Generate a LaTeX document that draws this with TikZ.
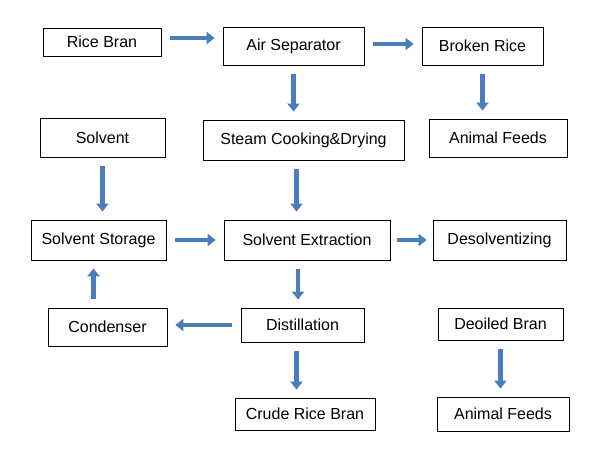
\documentclass[tikz,border=0pt]{standalone}
\usepackage{fontspec}
\setmainfont{Liberation Sans}
\usetikzlibrary{arrows.meta}
\definecolor{arr}{HTML}{4A7EBB}
\begin{document}
\begin{tikzpicture}[x=1pt,y=-1pt,
  box/.style={draw=black,line width=0.8pt,inner sep=0pt,font=\fontsize{16}{18}\selectfont},
  ar/.style={draw=arr,line width=4.5pt,-{Triangle[length=8pt,width=12pt]},shorten <=9pt,shorten >=8pt}]
\useasboundingbox[fill=white] (0,0) rectangle (614,458);
\newcommand\bx[6]{\node[box,minimum width=#4-#2,minimum height=#5-#3] (#1) at ({(#2+#4)/2},{(#3+#5)/2}) {#6};}
\bx{rb}{43}{28}{161}{56}{Rice Bran}
\bx{as}{223}{27}{364}{65}{Air Separator}
\bx{br}{422}{27}{543}{65}{Broken Rice}
\bx{sv}{40}{118}{165}{157}{Solvent}
\bx{sc}{203}{120}{404}{160}{Steam Cooking\&Drying}
\bx{af1}{429}{119}{567}{157}{Animal Feeds}
\bx{ss}{31}{220}{166}{260}{Solvent Storage}
\bx{se}{224}{220}{390}{260}{Solvent Extraction}
\bx{de}{433}{220}{566}{260}{Desolventizing}
\bx{co}{48}{308}{167}{346}{Condenser}
\bx{di}{241}{308}{364}{342}{Distillation}
\bx{db}{438}{308}{563}{340}{Deoiled Bran}
\bx{cr}{235}{398}{375}{430}{Crude Rice Bran}
\bx{af2}{437}{397}{569}{431}{Animal Feeds}
\draw[ar] ([yshift=4pt]rb.east) -- ([yshift=4pt]rb.east -| as.west);
\draw[ar] ([yshift=2pt]as.east) -- ([yshift=2pt]as.east -| br.west);
\draw[ar] (as.south) -- (as.south |- sc.north);
\draw[ar] (br.south) -- (br.south |- af1.north);
\draw[ar] (sv.south) -- (sv.south |- ss.north);
\draw[ar] ([xshift=-7pt]sc.south) -- ([xshift=-7pt]sc.south |- se.north);
\draw[ar] (ss.east) -- (ss.east -| se.west);
\draw[ar,shorten <=7pt,shorten >=6pt] (se.east) -- (se.east -| de.west);
\draw[ar] ([xshift=-9pt]se.south) -- ([xshift=-9pt]se.south |- di.north);
\draw[ar] (di.west) -- (di.west -| co.east);
\draw[ar] ([xshift=-14pt]co.north) -- ([xshift=-14pt]co.north |- ss.south);
\draw[ar] ([xshift=-6pt]di.south) -- ([xshift=-6pt]di.south |- cr.north);
\draw[ar] (db.south) -- (db.south |- af2.north);
\end{tikzpicture}
\end{document}
